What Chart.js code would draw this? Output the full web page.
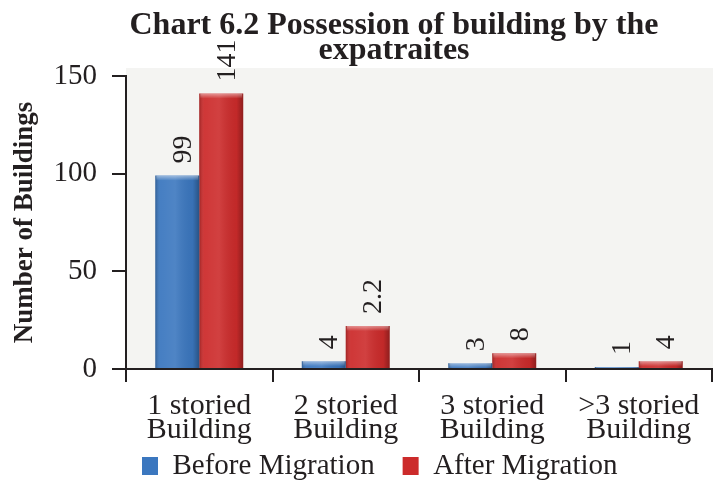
<!DOCTYPE html>
<html><head><meta charset="utf-8">
<script src="https://cdn.jsdelivr.net/npm/chart.js@4.4.1/dist/chart.umd.min.js"></script>
<style>html,body{margin:0;padding:0;background:#fff;}#wrap{width:721px;height:487px;}</style>
</head><body><div id="wrap"><canvas id="c" width="721" height="487"></canvas></div>
<script>
const categories = [['1 storied', 'Building'], ['2 storied', 'Building'], ['3 storied', 'Building'], ['>3 storied', 'Building']];
const beforeValues = [99, 4, 3, 1];
const afterValues = [141, 22, 8, 4];
const beforeLabels = ['99', '4', '3', '1'];
const afterLabels = ['141', '2.2', '8', '4'];
const yTicks = [0, 50, 100, 150];
const seriesNames = ['Before Migration', 'After Migration'];
const titleLines = ['Chart 6.2 Possession of building by the', 'expatraites'];
const yTitle = 'Number of Buildings';

const INK = '#231f20';
const SERIF = "'Liberation Serif', 'Times New Roman', serif";

const bgPlugin = {
  id: 'bg',
  beforeDraw(chart) {
    const {ctx, chartArea: a} = chart;
    ctx.save();
    ctx.fillStyle = '#ffffff';
    ctx.fillRect(0, 0, chart.width, chart.height);
    ctx.fillStyle = '#f4f4f2';
    ctx.fillRect(a.left, a.top - 8, a.right - a.left + 1, a.bottom - a.top + 8);
    ctx.restore();
  }
};

const legendPlacePlugin = {
  id: 'legendPlace',
  afterLayout(chart) {
    const lg = chart.legend;
    if (!lg) return;
    const h = lg.height;
    lg.left = 114;
    lg.right = lg.left + chart.width;
    lg.top = 423.5;
    lg.bottom = lg.top + h;
  }
};

const titlePlugin = {
  id: 'customTitle',
  afterDraw(chart) {
    const ctx = chart.ctx;
    ctx.save();
    ctx.fillStyle = INK;
    ctx.font = "bold 32px " + SERIF;
    ctx.textAlign = 'center';
    ctx.textBaseline = 'alphabetic';
    ctx.fillText(titleLines[0], 394, 34);
    ctx.fillText(titleLines[1], 394, 59);
    ctx.restore();
  }
};

const shadePlugin = {
  id: 'shade',
  afterDatasetsDraw(chart) {
    const ctx = chart.ctx;
    chart.data.datasets.forEach((ds, di) => {
      const meta = chart.getDatasetMeta(di);
      meta.data.forEach(el => {
        const l = el.x - el.width / 2, r = el.x + el.width / 2;
        const t = el.y, b = el.base;
        const h = b - t;
        if (h <= 0) return;
        ctx.save();
        const g = ctx.createLinearGradient(l, 0, r, 0);
        g.addColorStop(0, 'rgba(0,0,0,0.22)');
        g.addColorStop(0.12, 'rgba(255,255,255,0.06)');
        g.addColorStop(0.45, 'rgba(255,255,255,0.10)');
        g.addColorStop(0.85, 'rgba(0,0,0,0.05)');
        g.addColorStop(1, 'rgba(0,0,0,0.30)');
        ctx.fillStyle = g;
        ctx.fillRect(l, t, r - l, h);
        const capH = Math.min(5, h);
        const g2 = ctx.createLinearGradient(0, t, 0, t + capH);
        g2.addColorStop(0, 'rgba(255,255,255,0.45)');
        g2.addColorStop(1, 'rgba(255,255,255,0.0)');
        ctx.fillStyle = g2;
        ctx.fillRect(l + 1, t, r - l - 2, capH);
        ctx.restore();
      });
    });
  }
};

const labelPlugin = {
  id: 'valueLabels',
  afterDatasetsDraw(chart) {
    const ctx = chart.ctx;
    chart.data.datasets.forEach((ds, di) => {
      const meta = chart.getDatasetMeta(di);
      meta.data.forEach((el, i) => {
        ctx.save();
        ctx.fillStyle = INK;
        ctx.font = "28px " + SERIF;
        ctx.translate(el.x + 6, el.y - 12);
        ctx.rotate(-Math.PI / 2);
        ctx.textAlign = 'left';
        ctx.textBaseline = 'middle';
        ctx.fillText(ds.valueLabels[i], 0, 0);
        ctx.restore();
      });
    });
  }
};

new Chart(document.getElementById('c'), {
  type: 'bar',
  data: {
    labels: categories,
    datasets: [
      {label: seriesNames[0], data: beforeValues, backgroundColor: '#3b77bf', borderWidth: 0, valueLabels: beforeLabels},
      {label: seriesNames[1], data: afterValues, backgroundColor: '#cc2b2b', borderWidth: 0, valueLabels: afterLabels}
    ]
  },
  options: {
    responsive: false,
    animation: false,
    devicePixelRatio: 1,
    layout: {padding: {top: 76, right: 9, left: 0, bottom: -24}},
    datasets: {bar: {categoryPercentage: 0.6, barPercentage: 1.0}},
    plugins: {
      title: {display: false},
      tooltip: {enabled: false},
      legend: {
        position: 'bottom',
        align: 'start',
        fullSize: true,
        labels: {
          color: INK,
          font: {family: SERIF, size: 29},
          boxWidth: 16,
          boxHeight: 18,
          padding: 28
        }
      }
    },
    scales: {
      x: {
        grid: {display: true, drawOnChartArea: false, drawTicks: true, tickLength: 13, color: INK, lineWidth: 2, offset: true},
        border: {display: true, color: INK, width: 2},
        ticks: {color: INK, font: {family: SERIF, size: 30, lineHeight: 0.8}, padding: 12, maxRotation: 0, autoSkip: false},
        afterFit(s) { s.height = 75; }
      },
      y: {
        min: 0,
        max: 150,
        afterBuildTicks(s) { s.ticks = yTicks.map(v => ({value: v})); },
        grid: {drawOnChartArea: false, tickLength: 14, color: INK, lineWidth: 2},
        border: {display: true, color: INK, width: 2},
        ticks: {color: INK, font: {family: SERIF, size: 29}, padding: 15},
        title: {display: true, text: yTitle, color: INK, font: {family: SERIF, size: 27, weight: 'bold', lineHeight: 1.2}, padding: {top: 9, bottom: 0}},
        afterFit(s) { s.width = 126; }
      }
    }
  },
  plugins: [bgPlugin, legendPlacePlugin, titlePlugin, shadePlugin, labelPlugin]
});
</script>
</body></html>
